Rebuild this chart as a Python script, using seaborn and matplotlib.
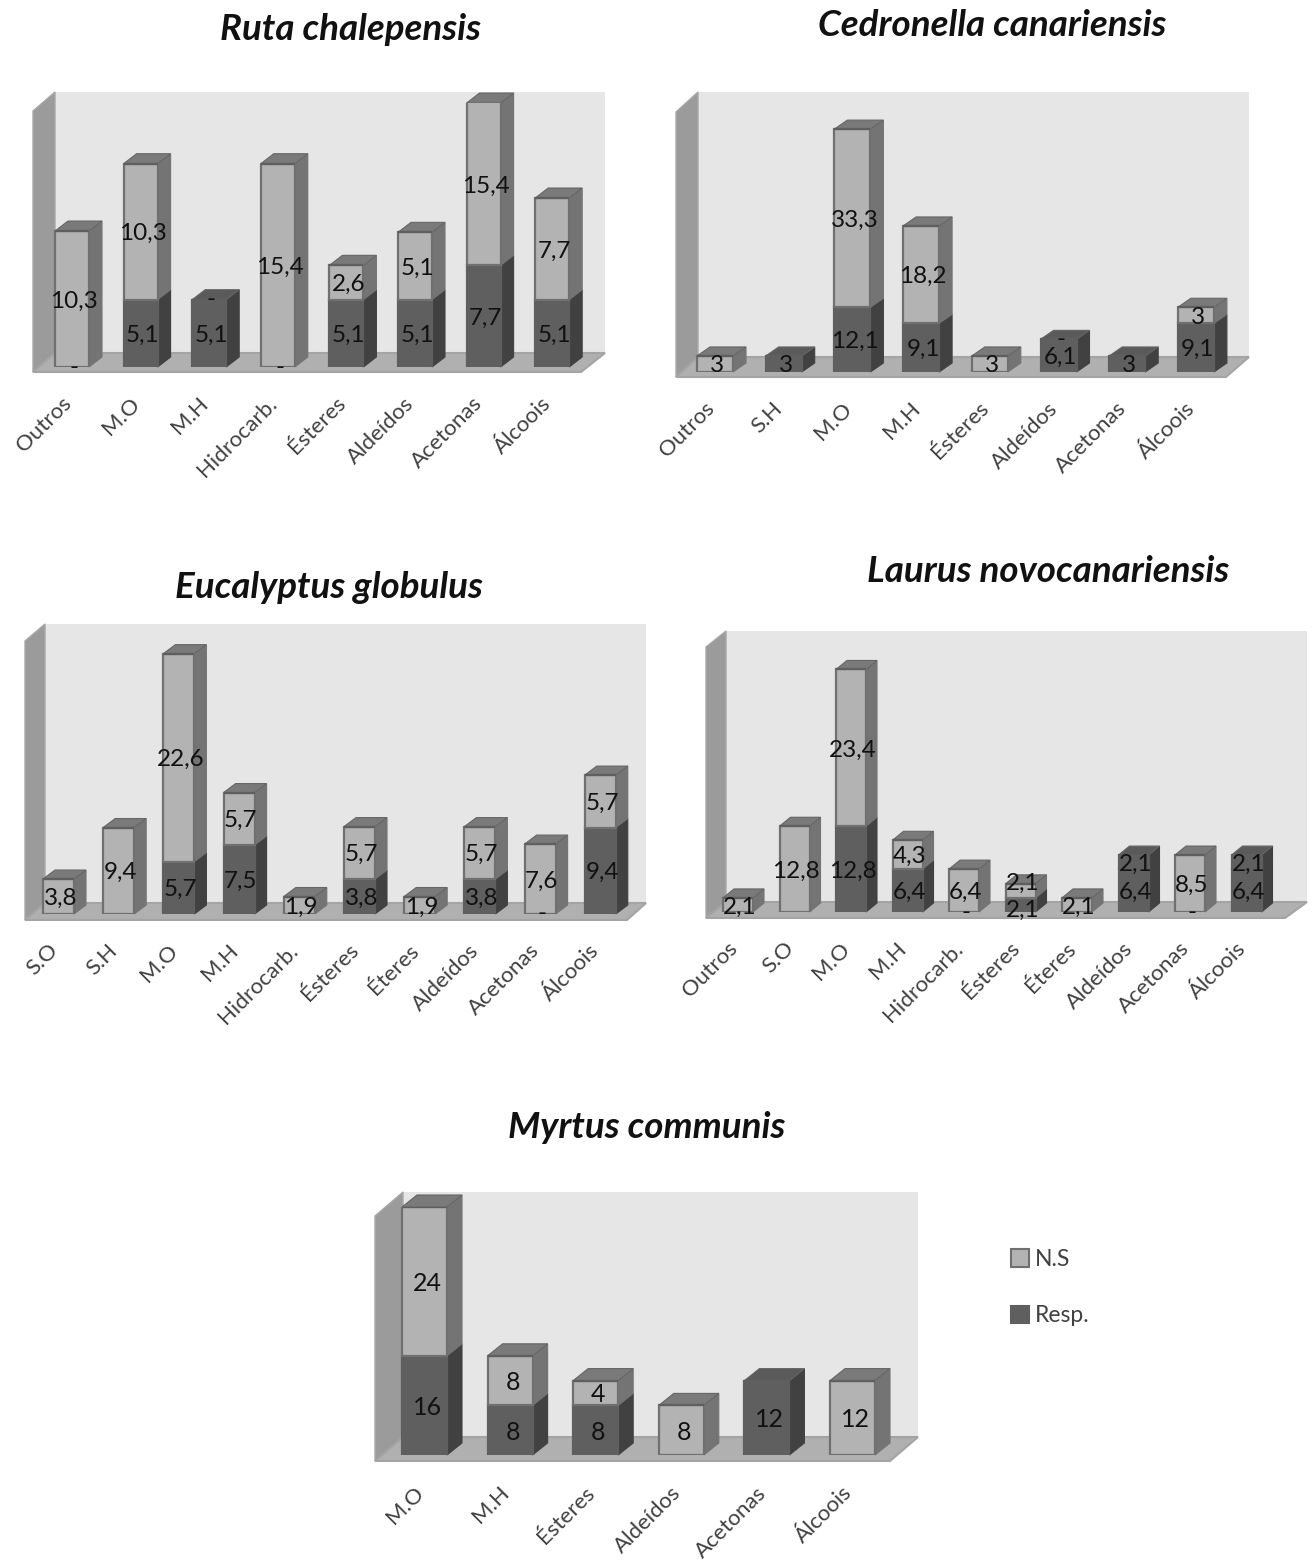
import numpy as np
import pandas as pd
import matplotlib
matplotlib.use('Agg')
import matplotlib.pyplot as plt
from matplotlib.patches import Polygon, Patch
from matplotlib.transforms import ScaledTranslation
import seaborn as sns

# ==========================================
# DATOS
# ==========================================
ruta_cats = ["Outros", "M.O", "M.H", "Hidrocarb.", "Ésteres", "Aldeídos", "Acetonas", "Álcoois"]
ruta_resp = [0, 5.1, 5.1, 0, 5.1, 5.1, 7.7, 5.1]
ruta_ns = [10.3, 10.3, 0, 15.4, 2.6, 5.1, 15.4, 7.7]

cedro_cats = ["Outros", "S.H", "M.O", "M.H", "Ésteres", "Aldeídos", "Acetonas", "Álcoois"]
cedro_resp = [0, 3, 12.1, 9.1, 0, 6.1, 3, 9.1]
cedro_ns = [3, 0, 33.3, 18.2, 3, 0, 0, 3]

euca_cats = ["S.O", "S.H", "M.O", "M.H", "Hidrocarb.", "Ésteres", "Éteres", "Aldeídos", "Acetonas", "Álcoois"]
euca_resp = [0, 0, 5.7, 7.5, 0, 3.8, 0, 3.8, 0, 9.4]
euca_ns = [3.8, 9.4, 22.6, 5.7, 1.9, 5.7, 1.9, 5.7, 7.6, 5.7]

laurus_cats = ["Outros", "S.O", "M.O", "M.H", "Hidrocarb.", "Ésteres", "Éteres", "Aldeídos", "Acetonas", "Álcoois"]
laurus_resp = [0, 0, 12.8, 6.4, 0, 2.1, 0, 6.4, 0, 6.4]
laurus_ns = [2.1, 12.8, 23.4, 4.3, 6.4, 2.1, 2.1, 0, 8.5, 0]
laurus_top = [0, 0, 0, 0, 0, 0, 0, 2.1, 0, 2.1]

myrtus_cats = ["M.O", "M.H", "Ésteres", "Aldeídos", "Acetonas", "Álcoois"]
myrtus_resp = [16, 8, 8, 0, 12, 0]
myrtus_ns = [24, 8, 4, 8, 0, 12]

# ==========================================
# ESTILO
# ==========================================
W, H = 1314, 1562
LIGHT, LIGHT_SIDE, LIGHT_TOP, LIGHT_EDGE = "#b3b3b3", "#747474", "#7a7a7a", "#707070"
DARK, DARK_SIDE, DARK_TOP = "#5f5f5f", "#414141", "#5a5a5a"

sns.set_theme(style="white")
plt.rcParams['font.family'] = ['Lato', 'DejaVu Sans']

fig = plt.figure(figsize=(W / 100, H / 100), dpi=100)
fig.patch.set_facecolor("white")

# Ejes de fondo en pixeles para paredes y suelos
bg = fig.add_axes([0, 0, 1, 1], zorder=-1)
bg.set_xlim(0, W)
bg.set_ylim(H, 0)
bg.set_axis_off()


def draw_room(front_l, back_l, right_b, right_f, wall_top):
    fx, fy = front_l
    bx, by = back_l
    bg.add_patch(Polygon([(bx, by), (bx, wall_top), (right_b, wall_top), (right_b, by)], fc="#e6e6e6", ec="none"))
    bg.add_patch(Polygon([(fx, fy), (bx, by), (bx, wall_top), (fx, wall_top + (fy - by))], fc="#9b9b9b", ec="#a8a8a8", lw=1))
    bg.add_patch(Polygon([(fx, fy), (bx, by), (right_b, by), (right_f, fy)], fc="#b0b0b0", ec="#a4a4a4", lw=1.5))


def fmt(v):
    return f"{v:g}".replace(".", ",")


def draw_panel(cats, resp, ns, top, title, title_xy, bar0, spacing, bar_w, base, scale, ymax,
               side, up, room, dash_resp=(), dash_ns=(), lab_size=17.5, tick_pad=19, nudge=None):
    draw_room(*room)
    nudge = nudge or {}
    n = len(cats)
    left = bar0 + bar_w / 2 - spacing / 2
    ax = fig.add_axes([left / W, 1 - base / H, n * spacing / W, ymax * scale / H])
    ax.patch.set_alpha(0)

    df = pd.DataFrame({"cat": cats, "resp": resp, "ns": ns, "top": top})
    df["cat"] = pd.Categorical(df["cat"], categories=cats)
    layers = [("resp", DARK, DARK_SIDE, DARK_TOP, DARK, np.zeros(n)),
              ("ns", LIGHT, LIGHT_SIDE, LIGHT_TOP, LIGHT_EDGE, df["resp"].values),
              ("top", DARK, DARK_SIDE, DARK_TOP, DARK, (df["resp"] + df["ns"]).values)]
    width = bar_w / spacing
    dx, dy = side / spacing, up / scale

    for name, fc, sc, tc, ec, bottom in layers:
        sns.barplot(data=df, x="cat", y=name, order=cats, color=fc, width=width, bottom=bottom,
                    errorbar=None, saturation=1, edgecolor=ec, linewidth=1.6, ax=ax)

    ax.set_xlim(-0.5, n - 0.5)
    ax.set_ylim(0, ymax)
    ax.set_xlabel("")
    ax.set_ylabel("")
    ax.set_yticks([])
    sns.despine(ax=ax, left=True, bottom=True)
    ax.tick_params(axis="x", length=0, pad=tick_pad, labelsize=16, labelcolor="#404040")
    shift = ScaledTranslation(-8 / 72, 0, fig.dpi_scale_trans)
    for lab in ax.get_xticklabels():
        lab.set_rotation(45)
        lab.set_ha("right")
        lab.set_rotation_mode("anchor")
        lab.set_transform(lab.get_transform() + shift)

    # Caras laterales, tapas y etiquetas a partir de las barras ya dibujadas
    total = df["resp"].values + df["ns"].values + df["top"].values
    for k, (name, fc, sc, tc, ec, bottom) in enumerate(layers):
        for i, bar in enumerate(ax.patches[k * n:(k + 1) * n]):
            h = bar.get_height()
            x0, x1 = bar.get_x(), bar.get_x() + bar.get_width()
            xc = (x0 + x1) / 2
            lo = bar.get_y()
            hi = min(lo + h, ymax)
            if h > 0:
                ax.add_patch(Polygon([(x1, lo), (x1 + dx, lo + dy), (x1 + dx, hi + dy), (x1, hi)],
                                     fc=sc, ec=sc, lw=0.8, clip_on=False, zorder=0.9))
                if lo + h >= total[i] - 1e-6:
                    ax.add_patch(Polygon([(x0, hi), (x0 + dx, hi + dy), (x1 + dx, hi + dy), (x1, hi)],
                                         fc=tc, ec="#666666", lw=0.8, clip_on=False, zorder=0.9))
                drop = 2 + nudge.get((cats[i], name), 0)
                ax.text(xc + 0.03, (lo + hi) / 2 - drop / scale, fmt(h), ha="center", va="center",
                        fontsize=lab_size, color="#111111", zorder=5, clip_on=False)
            elif (name == "resp" and cats[i] in dash_resp) or (name == "ns" and cats[i] in dash_ns):
                ax.text(xc + 0.03, lo, "-", ha="center", va="center", fontsize=lab_size,
                        color="#111111", zorder=5, clip_on=False)

    bg.text(title_xy[0], title_xy[1], title, ha="center", va="center", fontsize=26.5,
            fontweight="bold", fontstyle="italic", color="#111111")
    return ax


# ==========================================
# PANELES
# ==========================================
zeros8 = [0] * 8
draw_panel(ruta_cats, ruta_resp, ruta_ns, zeros8, "Ruta chalepensis", (351, 29),
           bar0=55, spacing=68.6, bar_w=34, base=367, scale=13.2, ymax=20, side=13, up=10,
           room=((33, 372), (55, 353), 605, 581, 92),
           dash_resp=("Outros", "Hidrocarb."), dash_ns=("M.H",))

draw_panel(cedro_cats, cedro_resp, cedro_ns, zeros8, "Cedronella canariensis", (992, 26),
           bar0=697, spacing=68.7, bar_w=36, base=372, scale=5.35, ymax=50, side=13, up=9,
           room=((676, 377), (698, 357), 1249, 1226, 92),
           dash_ns=("Aldeídos",))

draw_panel(euca_cats, euca_resp, euca_ns, [0] * 10, "Eucalyptus globulus", (329, 587),
           bar0=43, spacing=60.2, bar_w=31, base=914, scale=9.2, ymax=30, side=12, up=9,
           room=((25, 920), (45, 903), 646, 627, 624),
           dash_resp=("Acetonas",))

draw_panel(laurus_cats, laurus_resp, laurus_ns, laurus_top, "Laurus novocanariensis", (1048, 571),
           bar0=723, spacing=56.5, bar_w=30, base=912, scale=6.7, ymax=40, side=11, up=9,
           room=((706, 918), (726, 902), 1307, 1285, 631),
           dash_resp=("Hidrocarb.", "Acetonas"),
           nudge={("Ésteres", "ns"): -10, ("Ésteres", "resp"): 3})

draw_panel(myrtus_cats, myrtus_resp, myrtus_ns, [0] * 6, "Myrtus communis", (647, 1128),
           bar0=402, spacing=85.6, bar_w=45, base=1455, scale=6.2, ymax=40, side=15, up=12,
           room=((375, 1461), (403, 1437), 918, 890, 1192),
           lab_size=18, tick_pad=20)

# Leyenda
handles = [Patch(fc=LIGHT, ec=LIGHT_EDGE, lw=1.5, label="N.S"), Patch(fc=DARK, ec=DARK, lw=1.5, label="Resp.")]
bg.legend(handles=handles, loc="upper left", bbox_to_anchor=(1005 / W, 1 - 1243 / H), frameon=False,
          fontsize=16.5, handlelength=0.8, handleheight=0.8, handletextpad=0.25, labelspacing=1.55,
          borderpad=0.25, borderaxespad=0, labelcolor="#404040")

fig.savefig("out.png", dpi=100)
plt.close(fig)
